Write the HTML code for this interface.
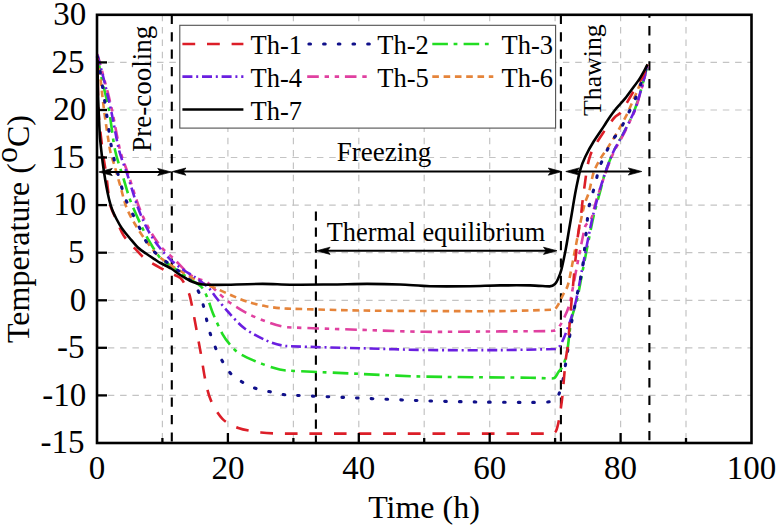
<!DOCTYPE html>
<html><head><meta charset="utf-8"><style>
html,body{margin:0;padding:0;background:#fff;width:777px;height:527px;overflow:hidden}
svg{display:block}
text{font-family:"Liberation Serif",serif;fill:#000}
.tk{font-size:33px}
.ax{font-size:32px}
.lg{font-size:26.5px}
.an{font-size:27px}
</style></head><body>
<svg width="777" height="527" viewBox="0 0 777 527">
<line x1="97.0" y1="395.4" x2="751.5" y2="395.4" stroke="#c4c4c4" stroke-width="1.2" stroke-dasharray="6.5 5.8" stroke-dashoffset="1.5"/>
<line x1="97.0" y1="347.8" x2="751.5" y2="347.8" stroke="#c4c4c4" stroke-width="1.2" stroke-dasharray="6.5 5.8" stroke-dashoffset="1.5"/>
<line x1="97.0" y1="300.3" x2="751.5" y2="300.3" stroke="#c4c4c4" stroke-width="1.2" stroke-dasharray="6.5 5.8" stroke-dashoffset="1.5"/>
<line x1="97.0" y1="252.7" x2="751.5" y2="252.7" stroke="#c4c4c4" stroke-width="1.2" stroke-dasharray="6.5 5.8" stroke-dashoffset="1.5"/>
<line x1="97.0" y1="205.1" x2="751.5" y2="205.1" stroke="#c4c4c4" stroke-width="1.2" stroke-dasharray="6.5 5.8" stroke-dashoffset="1.5"/>
<line x1="97.0" y1="157.5" x2="751.5" y2="157.5" stroke="#c4c4c4" stroke-width="1.2" stroke-dasharray="6.5 5.8" stroke-dashoffset="1.5"/>
<line x1="97.0" y1="110.0" x2="751.5" y2="110.0" stroke="#c4c4c4" stroke-width="1.2" stroke-dasharray="6.5 5.8" stroke-dashoffset="1.5"/>
<line x1="97.0" y1="62.4" x2="751.5" y2="62.4" stroke="#c4c4c4" stroke-width="1.2" stroke-dasharray="6.5 5.8" stroke-dashoffset="1.5"/>
<line x1="162.4" y1="14.8" x2="162.4" y2="443.0" stroke="#c4c4c4" stroke-width="1.2" stroke-dasharray="6.5 5.8"/>
<line x1="227.9" y1="14.8" x2="227.9" y2="443.0" stroke="#c4c4c4" stroke-width="1.2" stroke-dasharray="6.5 5.8"/>
<line x1="293.4" y1="14.8" x2="293.4" y2="443.0" stroke="#c4c4c4" stroke-width="1.2" stroke-dasharray="6.5 5.8"/>
<line x1="358.8" y1="14.8" x2="358.8" y2="443.0" stroke="#c4c4c4" stroke-width="1.2" stroke-dasharray="6.5 5.8"/>
<line x1="424.2" y1="14.8" x2="424.2" y2="443.0" stroke="#c4c4c4" stroke-width="1.2" stroke-dasharray="6.5 5.8"/>
<line x1="489.7" y1="14.8" x2="489.7" y2="443.0" stroke="#c4c4c4" stroke-width="1.2" stroke-dasharray="6.5 5.8"/>
<line x1="555.1" y1="14.8" x2="555.1" y2="443.0" stroke="#c4c4c4" stroke-width="1.2" stroke-dasharray="6.5 5.8"/>
<line x1="620.6" y1="14.8" x2="620.6" y2="443.0" stroke="#c4c4c4" stroke-width="1.2" stroke-dasharray="6.5 5.8"/>
<line x1="686.0" y1="14.8" x2="686.0" y2="443.0" stroke="#c4c4c4" stroke-width="1.2" stroke-dasharray="6.5 5.8"/>
<rect x="179.8" y="25.3" width="375.8" height="102.8" fill="#fff" stroke="#505050" stroke-width="1.1"/>
<line x1="182.4" y1="44.0" x2="243.4" y2="44.0" stroke="#dc1e28" stroke-width="2.6" stroke-dasharray="12.8 11.8"/>
<text x="250.5" y="54.0" class="lg">Th-1</text>
<line x1="308.9" y1="44.0" x2="369.9" y2="44.0" stroke="#10108a" stroke-width="3.1" stroke-dasharray="1.6 13.1" stroke-linecap="round"/>
<text x="377.3" y="54.0" class="lg">Th-2</text>
<line x1="432.3" y1="44.0" x2="493.3" y2="44.0" stroke="#22dd22" stroke-width="2.6" stroke-dasharray="15.6 5.7 3.8 6.2"/>
<text x="501.5" y="54.0" class="lg">Th-3</text>
<line x1="182.4" y1="76.6" x2="243.4" y2="76.6" stroke="#6a1fe0" stroke-width="2.6" stroke-dasharray="10 3.8 2 3.8"/>
<text x="250.5" y="86.6" class="lg">Th-4</text>
<line x1="307.2" y1="76.6" x2="368.2" y2="76.6" stroke="#e040a0" stroke-width="2.6" stroke-dasharray="11.6 5.8 4.4 5.7 4.4 5.8"/>
<text x="377.3" y="86.6" class="lg">Th-5</text>
<line x1="432.3" y1="76.6" x2="493.3" y2="76.6" stroke="#e5843a" stroke-width="2.6" stroke-dasharray="6.6 4.7"/>
<text x="501.5" y="86.6" class="lg">Th-6</text>
<line x1="182.4" y1="109.5" x2="243.4" y2="109.5" stroke="#000" stroke-width="2.6"/>
<text x="250.5" y="119.5" class="lg">Th-7</text>
<line x1="171.8" y1="14.8" x2="171.8" y2="443.0" stroke="#000" stroke-width="2.1" stroke-dasharray="9.2 8.2"/>
<line x1="560.9" y1="14.8" x2="560.9" y2="443.0" stroke="#000" stroke-width="2.1" stroke-dasharray="9.2 8.2"/>
<line x1="649.4" y1="14.8" x2="649.4" y2="443.0" stroke="#000" stroke-width="2.1" stroke-dasharray="9.3 8.3" stroke-dashoffset="6.3"/>
<line x1="315.9" y1="211.4" x2="315.9" y2="443.0" stroke="#000" stroke-width="2.1" stroke-dasharray="9.3 6.7"/>
<path d="M97.4,56.0 C98.9,64.0 100.3,72.0 102.0,80.0 C103.7,88.0 107.1,99.9 109.0,110.0 C110.9,120.1 112.9,140.3 115.0,150.0 C117.1,159.7 121.2,170.9 123.5,178.5 C125.8,186.1 127.8,193.8 130.6,201.2 C133.4,208.6 137.8,218.2 140.5,224.0 C143.2,229.8 145.9,235.5 149.1,241.0 C152.3,246.5 157.1,254.5 160.5,258.2 C163.9,261.9 168.6,264.1 172.7,267.0 C176.8,269.9 183.8,275.1 188.0,278.0 C192.2,280.9 198.0,283.4 200.9,286.3 C203.8,289.2 205.4,293.2 207.1,297.0 C208.8,300.8 210.9,308.4 213.2,314.0 C215.5,319.6 220.6,330.7 222.5,334.1 C224.4,337.5 226.7,340.7 229.2,343.7 C231.7,346.7 234.8,350.4 238.3,352.8 C241.8,355.2 248.8,358.3 254.2,360.7 C259.6,363.1 268.1,366.2 272.5,367.6 C276.9,369.0 281.5,370.2 286.1,370.5 C290.7,370.8 338.3,372.9 360.0,373.9 C381.7,374.9 403.3,376.1 425.0,376.6 C446.7,377.1 522.1,377.6 530.0,377.7 C537.9,377.8 551.0,378.8 553.6,378.3 C556.2,377.8 556.9,374.1 558.5,372.0 C560.1,369.9 562.2,368.0 563.2,365.6 C564.2,363.2 566.4,356.0 567.3,351.0 C568.2,346.0 569.8,327.7 571.2,320.4 C572.6,313.1 575.6,306.2 577.2,299.0 C578.8,291.8 581.4,277.2 583.5,266.3 C585.6,255.4 591.6,225.1 592.6,220.5 C593.6,215.9 594.8,211.4 596.0,206.8 C597.2,202.2 599.9,192.5 601.1,188.0 C602.3,183.5 603.2,178.6 604.5,174.5 C605.8,170.4 607.4,166.5 609.0,162.5 C610.6,158.5 612.1,154.4 614.0,150.5 C615.9,146.6 620.1,139.5 622.5,135.0 C624.9,130.5 627.5,125.1 629.3,121.5 C631.1,117.9 632.9,114.3 634.4,110.5 C635.9,106.7 637.5,101.9 638.8,97.5 C640.1,93.1 641.9,86.9 643.3,81.5 C644.7,76.1 646.2,70.2 647.6,64.5" fill="none" stroke="#22dd22" stroke-width="2.6" stroke-dasharray="15.6 5.7 3.8 6.2" stroke-linejoin="round"/>
<path d="M97.4,54.0 C99.8,62.7 102.2,71.3 104.5,80.0 C106.8,88.7 109.8,99.9 112.0,110.0 C114.2,120.1 117.8,141.3 120.0,150.0 C122.2,158.7 125.8,167.0 128.7,175.6 C131.6,184.2 136.0,199.2 139.0,207.0 C142.0,214.8 146.2,223.7 149.5,229.7 C152.8,235.7 157.2,242.2 161.0,246.8 C164.8,251.4 169.7,254.9 174.0,259.0 C178.3,263.1 184.9,271.1 190.0,274.7 C195.1,278.3 203.4,280.2 207.0,282.4 C210.6,284.6 213.2,288.1 216.3,290.9 C219.4,293.7 224.3,298.5 228.7,301.7 C233.1,304.9 240.7,309.9 247.2,313.3 C253.7,316.7 262.8,320.4 268.8,322.5 C274.8,324.6 281.0,326.7 287.4,327.2 C293.8,327.7 338.3,329.1 360.0,329.8 C381.7,330.5 403.3,331.6 425.0,331.8 C446.7,332.0 482.2,331.5 500.0,331.4 C517.8,331.3 549.9,331.3 553.5,330.8 C557.1,330.3 559.4,326.4 561.3,323.4 C563.2,320.4 567.3,311.1 568.8,306.7 C570.3,302.3 571.0,297.6 571.9,293.0 C572.8,288.4 575.2,275.0 577.0,266.0 C578.8,257.0 583.9,230.5 585.0,227.0 C586.1,223.5 590.0,221.4 591.5,218.0 C593.0,214.6 594.0,208.0 595.5,203.0 C597.0,198.0 599.5,190.4 601.0,186.0 C602.5,181.6 604.1,177.0 605.5,173.0 C606.9,169.0 608.4,165.0 610.0,161.0 C611.6,157.0 613.3,152.9 615.3,149.0 C617.3,145.1 621.7,137.9 624.0,133.5 C626.3,129.1 628.8,123.6 630.5,120.0 C632.2,116.4 634.1,112.8 635.5,109.0 C636.9,105.2 638.2,100.4 639.5,96.0 C640.8,91.6 642.7,85.1 644.0,80.0 C645.3,74.9 646.4,69.7 647.6,64.5" fill="none" stroke="#e040a0" stroke-width="2.6" stroke-dasharray="11.6 5.8 4.4 5.7 4.4 5.8" stroke-linejoin="round"/>
<path d="M97.4,57.0 C98.5,64.7 99.6,72.3 100.6,80.0 C101.6,87.7 102.7,100.0 104.0,110.0 C105.3,120.0 108.9,144.2 110.0,150.0 C111.1,155.8 113.3,161.3 114.9,167.0 C116.5,172.7 118.7,180.3 120.6,187.0 C122.5,193.7 124.0,201.1 126.3,207.0 C128.6,212.9 131.7,218.5 134.9,224.0 C138.1,229.5 142.6,236.1 146.2,241.0 C149.8,245.9 154.2,251.9 157.6,255.3 C161.0,258.7 165.1,261.2 169.0,263.9 C172.9,266.6 177.6,269.4 182.0,272.0 C186.4,274.6 192.5,278.3 198.0,281.0 C203.5,283.7 211.1,286.4 216.3,288.6 C221.5,290.8 226.7,293.3 231.8,295.5 C236.9,297.7 241.9,300.0 247.2,301.7 C252.5,303.4 259.5,305.2 265.8,306.3 C272.1,307.4 280.2,308.3 287.4,308.6 C294.6,308.9 338.3,310.1 360.0,310.5 C381.7,310.9 403.3,310.9 425.0,311.0 C446.7,311.1 482.2,311.3 500.0,311.1 C517.8,310.9 551.4,309.8 553.5,309.6 C555.6,309.4 556.8,306.8 558.0,305.0 C559.2,303.2 561.5,298.0 563.0,295.0 C564.5,292.0 566.5,289.2 567.6,286.0 C568.7,282.8 570.0,276.0 571.0,271.0 C572.0,266.0 573.6,257.0 575.0,250.0 C576.4,243.0 578.2,233.3 579.3,228.0 C580.4,222.7 582.0,215.0 582.7,212.0 C583.4,209.0 584.1,206.0 585.0,203.0 C585.9,200.0 588.1,195.4 589.2,191.4 C590.3,187.4 592.1,176.8 593.8,172.0 C595.5,167.2 598.5,162.0 600.6,158.4 C602.7,154.8 605.3,151.6 607.5,148.1 C609.7,144.6 613.3,139.1 616.0,134.4 C618.7,129.7 623.8,120.6 626.3,115.6 C628.8,110.6 631.4,104.1 633.1,100.3 C634.8,96.5 636.4,92.8 638.0,89.0 C639.6,85.2 641.4,81.0 643.0,77.0 C644.6,73.0 646.1,68.7 647.6,64.5" fill="none" stroke="#e5843a" stroke-width="2.6" stroke-dasharray="6.6 4.7" stroke-linejoin="round"/>
<path d="M97.4,55.0 C99.6,63.3 101.9,71.6 104.0,80.0 C106.1,88.4 108.8,100.0 111.0,110.0 C113.2,120.0 116.8,141.3 119.0,150.0 C121.2,158.7 124.9,167.0 127.7,175.6 C130.5,184.2 134.8,199.2 137.7,207.0 C140.6,214.8 144.5,223.7 147.7,229.7 C150.9,235.7 155.1,241.7 159.0,246.8 C162.9,251.9 167.9,257.3 171.9,261.0 C175.9,264.7 181.9,268.8 185.0,271.0 C188.1,273.2 191.6,274.8 194.7,277.0 C197.8,279.2 205.6,284.9 208.6,287.8 C211.6,290.7 213.6,294.5 216.3,297.8 C219.0,301.1 224.4,307.8 228.7,312.5 C233.0,317.2 238.3,323.6 244.1,328.0 C249.9,332.4 259.1,337.4 265.6,340.2 C272.1,343.0 279.0,345.4 286.1,346.0 C293.2,346.6 338.3,347.6 360.0,348.2 C381.7,348.8 403.3,349.7 425.0,350.0 C446.7,350.3 481.5,350.2 500.0,350.1 C518.5,350.0 553.8,349.1 555.5,349.0 C557.2,348.9 558.7,347.6 559.7,346.2 C560.7,344.8 563.0,340.2 564.3,337.0 C565.6,333.8 568.6,326.0 570.4,320.4 C572.2,314.8 574.8,306.2 576.4,299.0 C578.0,291.8 580.6,277.2 582.7,266.3 C584.8,255.4 590.8,225.1 591.8,220.5 C592.8,215.9 594.0,211.4 595.2,206.8 C596.4,202.2 598.9,192.8 600.3,188.0 C601.7,183.2 603.5,177.8 604.9,173.8 C606.3,169.8 607.7,165.8 609.2,161.8 C610.7,157.8 612.4,153.7 614.3,149.8 C616.2,145.9 620.5,138.9 622.9,134.4 C625.3,129.9 628.0,124.4 629.7,120.8 C631.4,117.2 633.4,113.7 634.8,110.0 C636.2,106.3 637.7,101.4 639.0,97.0 C640.3,92.6 642.1,86.4 643.5,81.0 C644.9,75.6 646.2,70.0 647.6,64.5" fill="none" stroke="#6a1fe0" stroke-width="2.6" stroke-dasharray="10 3.8 2 3.8" stroke-linejoin="round"/>
<path d="M97.4,57.0 C98.8,64.7 100.3,72.3 101.5,80.0 C102.7,87.7 104.5,100.0 106.0,110.0 C107.5,120.0 110.1,140.4 112.0,150.0 C113.9,159.6 117.2,171.3 119.2,178.5 C121.2,185.7 123.2,193.0 126.0,200.0 C128.8,207.0 134.4,217.3 137.7,224.0 C141.0,230.7 144.4,239.1 147.7,244.0 C151.0,248.9 155.5,253.1 160.0,257.0 C164.5,260.9 171.2,265.1 175.0,268.0 C178.8,270.9 183.6,275.0 186.0,277.0 C188.4,279.0 191.0,280.6 193.0,283.0 C195.0,285.4 197.7,289.5 199.3,293.2 C200.9,296.9 202.8,303.3 204.0,307.9 C205.2,312.5 206.0,317.2 207.1,321.8 C208.2,326.4 209.4,331.1 210.9,335.7 C212.4,340.3 214.7,346.2 216.7,350.5 C218.7,354.8 221.1,359.1 223.5,363.0 C225.9,366.9 228.2,371.1 231.5,374.4 C234.8,377.7 238.9,380.1 242.9,382.4 C246.9,384.7 251.8,387.1 256.5,388.7 C261.2,390.3 266.4,391.0 271.3,392.0 C276.2,393.0 281.1,394.5 286.1,394.9 C291.1,395.3 332.0,396.9 355.0,397.9 C378.0,398.9 406.7,400.2 425.0,400.8 C443.3,401.4 463.3,401.7 480.0,402.0 C496.7,402.3 524.0,402.4 530.0,402.4 C536.0,402.4 545.4,402.3 548.0,402.0 C550.6,401.7 553.8,400.7 555.5,399.4 C557.2,398.1 558.1,396.0 559.0,394.0 C559.9,392.0 561.6,387.4 562.3,384.0 C563.0,380.6 565.5,364.7 567.0,355.0 C568.5,345.3 570.9,326.7 572.0,320.0 C573.1,313.3 574.7,306.7 576.0,300.0 C577.3,293.3 581.1,277.6 582.7,266.3 C584.3,255.0 587.7,214.9 588.3,210.2 C588.9,205.5 590.6,201.1 591.8,196.5 C593.0,191.9 594.9,185.4 596.0,181.2 C597.1,177.0 597.5,172.7 598.9,168.6 C600.3,164.5 602.8,159.5 604.9,155.0 C607.0,150.5 609.3,145.5 611.8,141.3 C614.3,137.1 617.8,133.5 620.3,129.3 C622.8,125.1 624.8,120.4 627.0,116.0 C629.2,111.6 632.3,105.9 634.0,102.0 C635.7,98.1 637.0,94.0 638.5,90.0 C640.0,86.0 641.6,82.0 643.0,78.0 C644.4,74.0 646.1,69.0 647.6,64.5" fill="none" stroke="#10108a" stroke-width="3.1" stroke-dasharray="1.6 13.1" stroke-linecap="round" stroke-linejoin="round"/>
<path d="M97.4,58.0 C97.8,75.3 97.8,96.6 98.5,110.0 C99.2,123.4 101.6,142.3 102.5,150.0 C103.4,157.7 104.9,165.3 106.0,173.0 C107.1,180.7 108.8,198.5 110.0,204.0 C111.2,209.5 114.1,214.5 116.3,219.7 C118.5,224.9 120.8,231.1 123.5,235.4 C126.2,239.7 130.0,243.1 133.4,246.8 C136.8,250.5 141.4,256.0 146.2,259.6 C151.0,263.2 160.5,267.9 163.3,269.5 C166.1,271.1 169.1,272.4 171.9,273.8 C174.7,275.2 178.0,276.0 180.4,278.1 C182.8,280.2 184.7,283.9 186.1,286.6 C187.5,289.3 188.6,292.1 189.5,295.0 C190.4,297.9 191.5,303.6 192.4,307.9 C193.3,312.2 195.8,325.9 197.0,332.6 C198.2,339.3 199.5,346.1 200.7,352.8 C201.9,359.5 203.8,373.0 205.3,380.0 C206.8,387.0 208.1,394.1 211.0,400.6 C213.9,407.1 218.1,414.5 222.4,418.8 C226.7,423.1 232.5,425.9 238.3,427.9 C244.1,429.9 253.4,431.6 261.1,432.5 C268.8,433.4 279.3,433.6 288.4,433.6 C297.5,433.6 551.2,433.6 552.6,433.6 C554.0,433.6 555.4,432.3 556.0,431.0 C556.6,429.7 558.3,423.5 559.0,419.7 C559.7,415.9 561.5,404.7 562.3,397.1 C563.1,389.5 564.8,367.8 565.5,361.6 C566.2,355.4 567.5,349.2 568.1,343.0 C568.7,336.8 569.7,322.4 570.4,314.3 C571.1,306.2 571.8,298.1 572.6,290.0 C573.4,281.9 576.6,246.9 577.5,239.0 C578.4,231.1 580.3,220.5 581.0,215.4 C581.7,210.3 582.0,205.1 582.7,200.0 C583.4,194.9 586.2,173.2 587.0,168.6 C587.8,164.0 589.1,158.6 590.4,155.0 C591.7,151.4 593.6,148.0 595.5,144.7 C597.4,141.4 601.3,135.6 603.2,132.7 C605.1,129.8 607.3,126.7 609.2,124.2 C611.1,121.7 613.2,118.8 615.0,117.0 C616.8,115.2 619.5,114.2 621.2,112.2 C622.9,110.2 624.6,106.5 626.3,103.7 C628.0,100.9 630.1,97.2 632.0,94.0 C633.9,90.8 636.7,86.0 638.0,84.0 C639.3,82.0 640.9,80.2 642.0,78.0 C643.1,75.8 645.7,69.0 647.6,64.5" fill="none" stroke="#dc1e28" stroke-width="2.6" stroke-dasharray="12.8 11.8" stroke-linejoin="round"/>
<path d="M97.4,60.0 C97.7,73.3 97.8,88.3 98.2,100.0 C98.6,111.7 99.4,128.3 99.8,135.0 C100.2,141.7 101.2,149.3 101.8,155.0 C102.4,160.7 103.3,167.3 104.0,172.0 C104.7,176.7 105.5,181.6 106.3,186.0 C107.1,190.4 108.1,195.3 109.0,199.0 C109.9,202.7 111.1,206.9 112.3,210.0 C113.5,213.1 115.0,216.1 116.5,219.0 C118.0,221.9 119.9,225.5 122.0,228.5 C124.1,231.5 126.7,234.6 129.2,237.5 C131.7,240.4 135.5,245.2 137.9,247.5 C140.3,249.8 143.4,251.7 146.0,253.5 C148.6,255.3 151.7,257.4 153.9,258.8 C156.1,260.2 158.2,261.7 160.5,263.0 C162.8,264.3 168.5,267.0 171.0,268.5 C173.5,270.0 175.6,271.9 178.0,273.5 C180.4,275.1 182.9,276.6 185.4,278.0 C187.9,279.4 190.4,281.0 193.0,282.0 C195.6,283.0 198.3,283.8 201.0,284.2 C203.7,284.6 208.3,284.7 212.0,284.8 C215.7,284.9 222.6,284.8 227.9,284.7 C233.2,284.6 253.6,283.9 262.7,283.9 C271.8,283.9 280.9,284.6 290.0,284.7 C299.1,284.8 317.7,284.6 330.0,284.5 C342.3,284.4 356.0,283.9 367.0,283.9 C378.0,283.9 390.0,284.1 400.0,284.5 C410.0,284.9 420.0,286.0 430.0,286.2 C440.0,286.4 460.0,286.3 470.0,286.2 C480.0,286.1 490.0,285.5 500.0,285.4 C510.0,285.3 523.4,285.3 530.0,285.4 C536.6,285.5 547.8,286.5 549.7,286.4 C551.6,286.3 553.6,285.3 555.0,284.0 C556.4,282.7 557.2,280.8 558.0,279.0 C558.8,277.2 560.5,273.1 561.3,270.0 C562.1,266.9 564.3,256.6 565.6,250.0 C566.9,243.4 567.9,236.7 569.0,230.0 C570.1,223.3 571.3,216.7 572.4,210.0 C573.5,203.3 574.6,196.3 575.9,189.8 C577.2,183.3 578.8,175.0 580.1,170.3 C581.4,165.6 583.2,161.1 585.3,156.7 C587.4,152.3 590.7,146.3 593.8,141.3 C596.9,136.3 602.3,128.7 604.1,125.9 C605.9,123.1 607.7,120.1 609.5,117.5 C611.3,114.9 613.4,112.0 615.0,110.0 C616.6,108.0 618.3,106.2 620.0,104.3 C621.7,102.4 623.4,100.6 625.0,98.6 C626.6,96.6 629.3,92.9 631.4,90.0 C633.5,87.1 637.0,82.8 639.5,78.9 C642.0,75.0 644.9,69.3 647.6,64.5" fill="none" stroke="#000" stroke-width="2.6" stroke-linejoin="round"/>
<line x1="106.8" y1="172.0" x2="163.2" y2="172.0" stroke="#000" stroke-width="2.0"/><path d="M98.8,172.0 L112.3,168.4 L109.6,172.0 L112.3,175.6 Z" fill="#000" stroke="#000" stroke-width="0.7" stroke-linejoin="round"/><path d="M171.2,172.0 L157.7,168.4 L160.4,172.0 L157.7,175.6 Z" fill="#000" stroke="#000" stroke-width="0.7" stroke-linejoin="round"/>
<line x1="180.4" y1="171.6" x2="553.8" y2="171.6" stroke="#000" stroke-width="2.0"/><path d="M172.4,171.6 L185.9,168.0 L183.2,171.6 L185.9,175.2 Z" fill="#000" stroke="#000" stroke-width="0.7" stroke-linejoin="round"/><path d="M561.8,171.6 L548.3,168.0 L551.0,171.6 L548.3,175.2 Z" fill="#000" stroke="#000" stroke-width="0.7" stroke-linejoin="round"/>
<line x1="573.8" y1="171.5" x2="633.8" y2="171.5" stroke="#000" stroke-width="2.0"/><path d="M565.8,171.5 L579.3,167.9 L576.6,171.5 L579.3,175.1 Z" fill="#000" stroke="#000" stroke-width="0.7" stroke-linejoin="round"/><path d="M641.8,171.5 L628.3,167.9 L631.0,171.5 L628.3,175.1 Z" fill="#000" stroke="#000" stroke-width="0.7" stroke-linejoin="round"/>
<line x1="324.6" y1="250.8" x2="549.0" y2="250.8" stroke="#000" stroke-width="2.0"/><path d="M316.6,250.8 L330.1,247.2 L327.4,250.8 L330.1,254.4 Z" fill="#000" stroke="#000" stroke-width="0.7" stroke-linejoin="round"/><path d="M557.0,250.8 L543.5,247.2 L546.2,250.8 L543.5,254.4 Z" fill="#000" stroke="#000" stroke-width="0.7" stroke-linejoin="round"/>
<rect x="97.0" y="14.8" width="654.5" height="428.2" fill="none" stroke="#000" stroke-width="2.6"/>
<line x1="97.0" y1="395.4" x2="107.0" y2="395.4" stroke="#000" stroke-width="2.3"/>
<line x1="97.0" y1="347.8" x2="107.0" y2="347.8" stroke="#000" stroke-width="2.3"/>
<line x1="97.0" y1="300.3" x2="107.0" y2="300.3" stroke="#000" stroke-width="2.3"/>
<line x1="97.0" y1="252.7" x2="107.0" y2="252.7" stroke="#000" stroke-width="2.3"/>
<line x1="97.0" y1="205.1" x2="107.0" y2="205.1" stroke="#000" stroke-width="2.3"/>
<line x1="97.0" y1="157.5" x2="107.0" y2="157.5" stroke="#000" stroke-width="2.3"/>
<line x1="97.0" y1="110.0" x2="107.0" y2="110.0" stroke="#000" stroke-width="2.3"/>
<line x1="97.0" y1="62.4" x2="107.0" y2="62.4" stroke="#000" stroke-width="2.3"/>
<line x1="162.4" y1="443.0" x2="162.4" y2="438.0" stroke="#000" stroke-width="2.3"/>
<line x1="227.9" y1="443.0" x2="227.9" y2="433.0" stroke="#000" stroke-width="2.3"/>
<line x1="293.4" y1="443.0" x2="293.4" y2="438.0" stroke="#000" stroke-width="2.3"/>
<line x1="358.8" y1="443.0" x2="358.8" y2="433.0" stroke="#000" stroke-width="2.3"/>
<line x1="424.2" y1="443.0" x2="424.2" y2="438.0" stroke="#000" stroke-width="2.3"/>
<line x1="489.7" y1="443.0" x2="489.7" y2="433.0" stroke="#000" stroke-width="2.3"/>
<line x1="555.1" y1="443.0" x2="555.1" y2="438.0" stroke="#000" stroke-width="2.3"/>
<line x1="620.6" y1="443.0" x2="620.6" y2="433.0" stroke="#000" stroke-width="2.3"/>
<line x1="686.0" y1="443.0" x2="686.0" y2="438.0" stroke="#000" stroke-width="2.3"/>
<text x="84.5" y="453.2" class="tk" text-anchor="end">-15</text>
<text x="86.3" y="405.6" class="tk" text-anchor="end">-10</text>
<text x="84.5" y="358.0" class="tk" text-anchor="end">-5</text>
<text x="86.3" y="310.5" class="tk" text-anchor="end">0</text>
<text x="84.5" y="262.9" class="tk" text-anchor="end">5</text>
<text x="86.3" y="215.3" class="tk" text-anchor="end">10</text>
<text x="84.5" y="167.7" class="tk" text-anchor="end">15</text>
<text x="86.3" y="120.2" class="tk" text-anchor="end">20</text>
<text x="84.5" y="72.6" class="tk" text-anchor="end">25</text>
<text x="86.3" y="25.0" class="tk" text-anchor="end">30</text>
<text x="97.0" y="479" class="tk" text-anchor="middle">0</text>
<text x="227.9" y="479" class="tk" text-anchor="middle">20</text>
<text x="358.8" y="479" class="tk" text-anchor="middle">40</text>
<text x="489.7" y="479" class="tk" text-anchor="middle">60</text>
<text x="620.6" y="479" class="tk" text-anchor="middle">80</text>
<text x="751.5" y="479" class="tk" text-anchor="middle">100</text>
<text x="424" y="517.6" class="ax" text-anchor="middle">Time (h)</text>
<text transform="translate(29.2,229) rotate(-90)" class="ax" text-anchor="middle" style="font-size:32px">Temperature (<tspan dy="-11.8">o</tspan><tspan dy="11.8">C)</tspan></text>
<text x="336.8" y="161.3" class="an">Freezing</text>
<text x="326.8" y="240.5" class="an" style="font-size:26.3px">Thermal equilibrium</text>
<text transform="translate(151.3,151.8) rotate(-90)" class="an">Pre-cooling</text>
<text transform="translate(601,116) rotate(-90)" class="an" style="font-size:25.8px">Thawing</text>
</svg></body></html>
